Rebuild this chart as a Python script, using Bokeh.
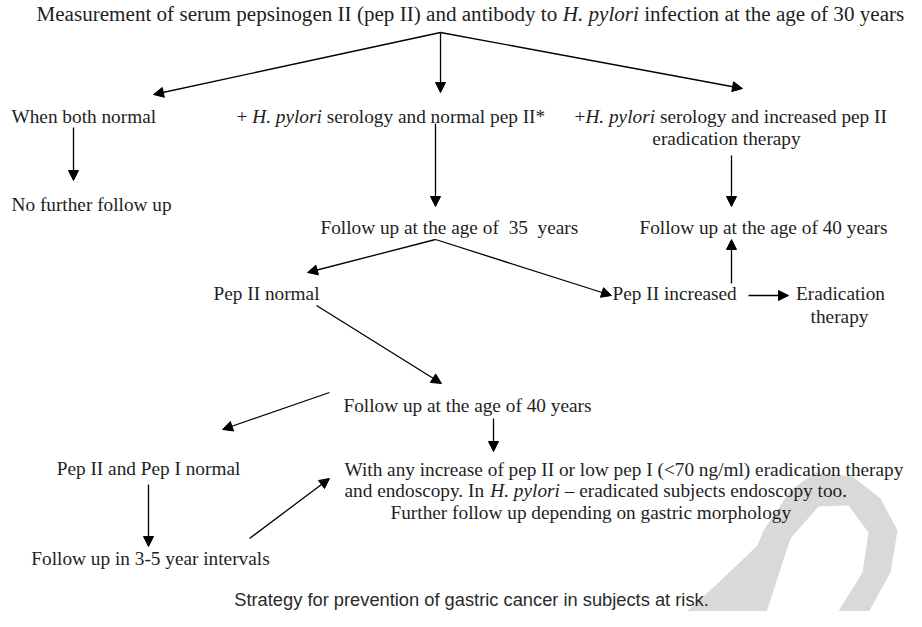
from bokeh.plotting import figure
from bokeh.models import Range1d, Arrow, NormalHead, ColumnDataSource
from bokeh.embed import file_html
from bokeh.resources import INLINE
from bokeh.core.properties import value

# ---------------- canvas geometry (1:1 with reference pixels) ----------------
PW, PH = 906, 611

SERIF = "Liberation Serif"
SANS = "Liberation Sans"
INK = "#1e1e1e"
BODY = 19.3
TITLE = 21.1
CAP = 18.3

# ---------------- Times metrics (per 1000 em) ----------------
ROMAN = {" ": 250, "!": 333, "(": 333, ")": 333, "*": 500, "+": 564, ",": 250,
         "-": 333, ".": 250, "/": 278, ":": 278, "<": 564, "\u2013": 500}
for ch in "0123456789":
    ROMAN[ch] = 500
for ch, w in zip("ABCDEFGHIJKLMNOPQRSTUVWXYZ",
                 [722, 667, 667, 722, 611, 556, 722, 722, 333, 389, 722, 611, 889,
                  722, 722, 556, 722, 667, 556, 611, 722, 722, 944, 722, 722, 611]):
    ROMAN[ch] = w
for ch, w in zip("abcdefghijklmnopqrstuvwxyz",
                 [444, 500, 444, 500, 444, 333, 500, 500, 278, 278, 500, 278, 778,
                  500, 500, 500, 500, 333, 389, 278, 500, 500, 722, 500, 500, 444]):
    ROMAN[ch] = w
ITALIC = {" ": 250, ".": 250, "H": 722, "p": 500, "y": 444, "l": 278, "o": 500,
          "r": 389, "i": 278}


def twidth(s, italic, size):
    tbl = ITALIC if italic else ROMAN
    return sum(tbl.get(c, 500) for c in s) * size / 1000.0


# ---------------- single-style labels ----------------
plain_text = [
    "When both normal",
    "No further follow up",
    "eradication therapy",
    "Follow up at the age of 40 years",
    "Pep II normal",
    "Pep II increased",
    "Eradication",
    "therapy",
    "Follow up at the age of 40 years",
    "Pep II and Pep I normal",
    "With any increase of pep II or low pep I (<70 ng/ml) eradication therapy",
    "Further follow up depending on gastric morphology",
    "Follow up in 3-5 year intervals",
]
plain_x = [11, 11, 726, 639, 213, 612, 840, 839, 343, 148, 344, 390, 150]
plain_y = [116, 204, 138, 227, 293, 293, 293, 316, 405, 468, 469, 512, 558]
plain_align = ["left", "left", "center", "left", "left", "left",
               "center", "center", "left", "center", "left", "left", "center"]

# ---------------- multi-part lines (italic "H. pylori", kept double spaces) ----------------
mixed_parts = [
    [("Measurement of serum pepsinogen II (pep II) and antibody to ", False),
     ("H. pylori", True), (" infection at the age of 30 years", False)],
    [("+ ", False), ("H. pylori", True), (" serology and normal pep II*", False)],
    [("+", False), ("H. pylori", True), (" serology and increased pep II", False)],
    [("Follow up at the age of", False), ("  35", False), ("  years", False)],
    [("and endoscopy. In ", False), ("H. pylori", True),
     (" \u2013 eradicated subjects endoscopy too.", False)],
]
mixed_x = [36, 236, 574, 320, 344]
mixed_y = [13, 116, 116, 227, 490]
mixed_size = [TITLE, BODY, BODY, BODY, BODY]

caption_text = "Strategy for prevention of gastric cancer in subjects at risk."
caption_x = 471
caption_y = 599

# ---------------- arrows ----------------
arrow_x0 = [440, 440, 440, 73, 435, 731, 435, 435, 731, 748, 316, 329, 493, 148, 249]
arrow_y0 = [32, 32, 32, 127, 123, 155, 239, 239, 283, 295, 305, 392, 418, 484, 538]
arrow_x1 = [153, 440, 742, 73, 435, 731, 307, 611, 731, 788, 441, 222, 493, 148, 329]
arrow_y1 = [94, 92, 88, 180, 206, 206, 272, 295, 239, 295, 383, 429, 451, 546, 478]

# ---------------- watermark shapes (light grey) ----------------
wm_I_x = [665, 715, 757, 728]
wm_I_y = [630, 585, 545, 630]
wm_D_outer_x = [722, 763, 790, 815, 852, 880, 897, 890, 858]
wm_D_outer_y = [630, 530, 490, 472, 476, 498, 530, 572, 630]
wm_D_hole_x = [760, 790, 818, 848, 868, 862, 826]
wm_D_hole_y = [630, 538, 506, 505, 532, 572, 630]

p = figure(width=PW, height=PH, x_range=Range1d(0, PW), y_range=Range1d(PH, 0),
           output_backend="svg", toolbar_location=None, x_axis_type=None,
           y_axis_type=None, min_border=0)
p.grid.visible = False
p.outline_line_color = None
p.background_fill_color = "white"
p.border_fill_color = "white"

WM = "#d9d9d9"
p.patch(x=wm_I_x, y=wm_I_y, fill_color=WM, line_color=None)
p.multi_polygons(xs=[[[wm_D_outer_x, wm_D_hole_x]]], ys=[[[wm_D_outer_y, wm_D_hole_y]]],
                 fill_color=WM, line_color=None)

# plain labels
p.text(x=plain_x, y=plain_y, text=plain_text, text_align=plain_align,
       text_baseline="middle", text_font=value(SERIF),
       text_font_size=value(f"{BODY:.2f}px"), text_color=INK)

# multi-part lines
for parts, x0, y0, sz in zip(mixed_parts, mixed_x, mixed_y, mixed_size):
    xs_r, ts_r, xs_i, ts_i = [], [], [], []
    cur = x0
    for txt, it in parts:
        lead = len(txt) - len(txt.lstrip(" "))
        start = cur + twidth(" " * lead, it, sz)
        body = txt.strip(" ")
        if it:
            xs_i.append(start); ts_i.append(body)
        else:
            xs_r.append(start); ts_r.append(body)
        cur += twidth(txt, it, sz)
    fs = value(f"{sz:.2f}px")
    p.text(x=xs_r, y=[y0] * len(xs_r), text=ts_r, text_align="left",
           text_baseline="middle", text_font=value(SERIF), text_font_size=fs,
           text_color=INK)
    if xs_i:
        p.text(x=xs_i, y=[y0] * len(xs_i), text=ts_i, text_align="left",
               text_baseline="middle", text_font=value(SERIF), text_font_size=fs,
               text_font_style="italic", text_color=INK)

# caption
p.text(x=[caption_x], y=[caption_y], text=[caption_text], text_align="center",
       text_baseline="middle", text_font=value(SANS),
       text_font_size=value(f"{CAP:.2f}px"), text_color="#2a2a2a")

# arrows
asrc = ColumnDataSource(dict(x0=arrow_x0, y0=arrow_y0, x1=arrow_x1, y1=arrow_y1))
p.add_layout(Arrow(end=NormalHead(size=10, fill_color="black", line_color="black",
                                  line_width=1),
                   x_start="x0", y_start="y0", x_end="x1", y_end="y1",
                   source=asrc, line_color="black", line_width=1.3))

open("out.html", "w").write(file_html(p, INLINE))
